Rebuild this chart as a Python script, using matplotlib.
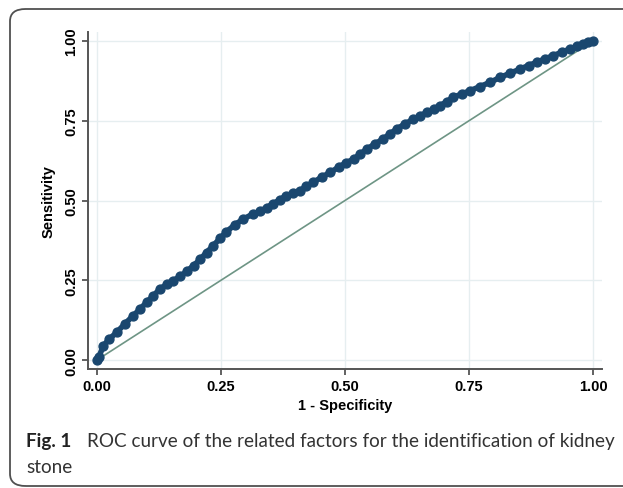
import matplotlib
matplotlib.use("Agg")
import matplotlib.pyplot as plt
from matplotlib.patches import FancyBboxPatch

# ROC points (1 - specificity, sensitivity)
fpr = [0.0, 0.004, 0.013, 0.025, 0.040, 0.056, 0.073, 0.087, 0.100, 0.114,
       0.127, 0.141, 0.154, 0.168, 0.181, 0.195, 0.208, 0.221, 0.234, 0.248,
       0.261, 0.278, 0.295, 0.315, 0.329, 0.342, 0.355, 0.368, 0.382, 0.395,
       0.409, 0.422, 0.436, 0.453, 0.470, 0.487, 0.503, 0.518, 0.531, 0.544,
       0.560, 0.577, 0.591, 0.604, 0.621, 0.638, 0.652, 0.665, 0.679, 0.692,
       0.705, 0.718, 0.735, 0.752, 0.772, 0.792, 0.813, 0.833, 0.853, 0.870,
       0.886, 0.903, 0.920, 0.937, 0.954, 0.967, 0.980, 0.990, 1.0]
tpr = [0.0, 0.010, 0.045, 0.066, 0.087, 0.113, 0.139, 0.160, 0.181, 0.202,
       0.223, 0.237, 0.249, 0.262, 0.278, 0.296, 0.316, 0.337, 0.358, 0.381,
       0.402, 0.424, 0.442, 0.458, 0.466, 0.478, 0.489, 0.502, 0.515, 0.523,
       0.531, 0.544, 0.557, 0.573, 0.588, 0.604, 0.619, 0.630, 0.646, 0.661,
       0.677, 0.693, 0.709, 0.724, 0.740, 0.755, 0.766, 0.776, 0.787, 0.797,
       0.810, 0.823, 0.834, 0.844, 0.857, 0.870, 0.886, 0.899, 0.912, 0.923,
       0.933, 0.944, 0.954, 0.965, 0.975, 0.983, 0.991, 0.996, 1.0]
ref = [0, 1]
ticks = [0, 0.25, 0.5, 0.75, 1.0]
tick_labels = ["0.00", "0.25", "0.50", "0.75", "1.00"]

W, H = 623, 489
fig = plt.figure(figsize=(W / 100, H / 100), dpi=100)

# rounded frame around figure + caption (right side runs off the page)
frame = FancyBboxPatch((10 / W, 2 / H), 660 / W, 477 / H,
                       boxstyle="round,pad=0,rounding_size=0.025",
                       transform=fig.transFigure, fill=False,
                       edgecolor="#505050", linewidth=1.3)
fig.patches.append(frame)

ax = fig.add_axes([88 / W, 1 - 370 / H, 514 / W, 337 / H])
ax.set_xlim(-0.018, 1.018)
ax.set_ylim(-0.028, 1.028)

navy = "#1a476f"
ax.plot(ref, ref, color="#6e9585", lw=1.2, zorder=2)
ax.plot(fpr, tpr, color=navy, lw=4.0, solid_capstyle="round", zorder=3)
ax.plot(fpr, tpr, "o", color=navy, ms=6.4, mec=navy, zorder=4)

ax.set_xticks(ticks)
ax.set_yticks(ticks)
ax.set_xticklabels(tick_labels, fontsize=10.5, fontweight="bold",
                   family="Liberation Sans")
ax.set_yticklabels(tick_labels, fontsize=10.5, fontweight="bold",
                   family="Liberation Sans", rotation=90, va="center")
ax.grid(True, color="#e6eef0", lw=1.0)
ax.set_axisbelow(True)
for s in ["top", "right"]:
    ax.spines[s].set_visible(False)
for s in ["left", "bottom"]:
    ax.spines[s].set_color("#555555")
    ax.spines[s].set_linewidth(1.4)
ax.tick_params(direction="out", length=4, width=1.3, color="#555555", pad=3)

ax.set_xlabel("1 - Specificity", fontsize=10.5, fontweight="bold",
              family="Liberation Sans", labelpad=4)
ax.set_ylabel("Sensitivity", fontsize=10.5, fontweight="bold",
              family="Liberation Sans", labelpad=6)

# caption
fig.text(26 / W, 1 - 447 / H, "Fig. 1", fontsize=13.6, fontweight="bold",
         family="Lato", color="#222222", va="baseline")
fig.text(87 / W, 1 - 447 / H,
         "ROC curve of the related factors for the identification of kidney",
         fontsize=13.6, family="Lato", color="#333333", va="baseline")
fig.text(26 / W, 1 - 473 / H, "stone", fontsize=13.6, family="Lato",
         color="#333333", va="baseline")

fig.savefig("out.png", dpi=100)
